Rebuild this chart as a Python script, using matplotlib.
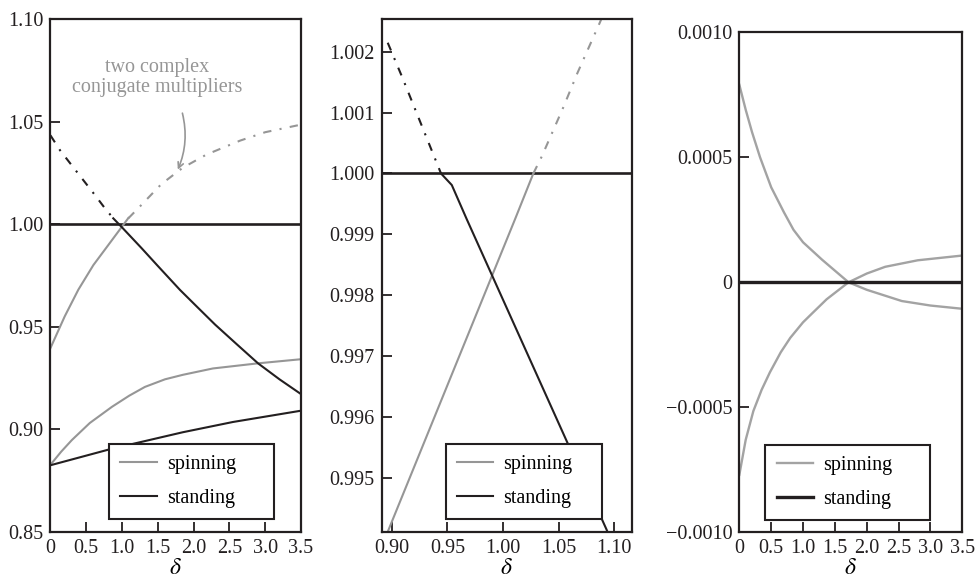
import matplotlib
matplotlib.use('Agg')
import matplotlib.pyplot as plt

plt.rcParams['font.family'] = ['Liberation Serif', 'DejaVu Serif']
plt.rcParams['mathtext.fontset'] = 'stix'

GRAY = '#969696'
BLACK = '#231f20'

# ---- panel 1 data (delta from 0 to 3.5) ----
p1_spin_low_x = [0, 0.15, 0.3, 0.55, 0.86, 1.1, 1.32, 1.6, 1.85, 2.27, 2.9, 3.5]
p1_spin_low_y = [0.8826, 0.889, 0.8947, 0.903, 0.9109, 0.9163, 0.9206, 0.9243,
                 0.9265, 0.9296, 0.9321, 0.9341]
p1_spin_up_x = [0, 0.2, 0.39, 0.6, 0.76, 0.99, 1.09]
p1_spin_up_y = [0.9395, 0.955, 0.968, 0.980, 0.9875, 0.9983, 1.003]
p1_spin_cx_x = [1.088, 1.237, 1.55, 1.85, 2.18, 2.65, 3.0, 3.5]
p1_spin_cx_y = [1.0028, 1.0081, 1.0195, 1.0275, 1.0339, 1.0407, 1.0448, 1.0485]
p1_stand_low_x = [0, 0.83, 1.85, 2.55, 3.5]
p1_stand_low_y = [0.8824, 0.8902, 0.8985, 0.9035, 0.909]
p1_stand_up_x = [0.878, 1.0, 1.275, 1.5, 1.81, 2.05, 2.3, 2.6, 2.9, 3.2, 3.5]
p1_stand_up_y = [1.0028, 0.9984, 0.9882, 0.9796, 0.9679, 0.9596, 0.951, 0.9415,
                 0.9321, 0.9243, 0.9171]
p1_stand_cx_x = [0, 0.134, 0.623, 0.753, 0.878]
p1_stand_cx_y = [1.0433, 1.036, 1.0141, 1.0081, 1.0028]
p1_xticks = [0, 0.5, 1.0, 1.5, 2.0, 2.5, 3.0, 3.5]
p1_xlabels = ['0', '0.5', '1.0', '1.5', '2.0', '2.5', '3.0', '3.5']
p1_yticks = [0.85, 0.90, 0.95, 1.00, 1.05, 1.10]

# ---- panel 2 data (zoom near delta = 1) ----
p2_spin_x = [0.894, 1.0109, 1.0273]
p2_spin_y = [0.9940, 0.99925, 1.0]
p2_spin_cx_x = [1.0273, 1.0349, 1.0543, 1.0669, 1.0873, 1.092]
p2_spin_cx_y = [1.0, 1.00028, 1.00109, 1.00165, 1.00249, 1.0027]
p2_stand_x = [0.9443, 0.954, 0.9674, 1.093, 1.096]
p2_stand_y = [1.0, 0.99981, 0.99925, 0.99415, 0.99402]
p2_stand_cx_x = [0.8964, 0.9095, 0.9443]
p2_stand_cx_y = [1.00215, 1.00158, 1.0]
p2_xticks = [0.90, 0.95, 1.00, 1.05, 1.10]
p2_yticks = [0.995, 0.996, 0.997, 0.998, 0.999, 1.000, 1.001, 1.002]

# ---- panel 3 data ----
p3_spin_a_x = [0, 0.1, 0.2, 0.325, 0.5, 0.7, 0.85, 1.0, 1.3, 1.714, 2.0, 2.55, 3.0, 3.5]
p3_spin_a_y = [0.00079, 0.00069, 0.00060, 0.00050, 0.00038, 0.00028, 0.00021,
               0.00016, 0.00009, 0.0, -0.00003, -0.000075, -0.000093, -0.000106]
p3_spin_b_x = [0, 0.1, 0.22, 0.35, 0.48, 0.65, 0.8, 1.0, 1.14, 1.37, 1.714, 2.0,
               2.29, 2.8, 3.5]
p3_spin_b_y = [-0.00077, -0.00063, -0.000515, -0.00043, -0.00036, -0.00028,
               -0.000222, -0.00016, -0.000125, -0.000068, 0.0, 0.000035,
               0.000062, 0.000088, 0.000107]
p3_yticks = [-0.0010, -0.0005, 0, 0.0005, 0.0010]
p3_ylabels = ['\u22120.0010', '\u22120.0005', '0', '0.0005', '0.0010']

FS = 14.5
DASHDOT = (0, (4, 4, 1, 4))

fig = plt.figure(figsize=(9.75, 5.83), dpi=100)
ax1 = fig.add_axes([0.0517, 0.0880, 0.2570, 0.8794])
ax2 = fig.add_axes([0.3915, 0.0880, 0.2567, 0.8794])
ax3 = fig.add_axes([0.7583, 0.0870, 0.2287, 0.8576])


def style(ax):
    for s in ax.spines.values():
        s.set_linewidth(1.6)
        s.set_color(BLACK)
    ax.tick_params(direction='in', length=7, width=1.3, pad=5,
                   labelsize=FS, top=False, right=False, colors=BLACK)
    ax.set_xlabel('$\\delta$', fontsize=17, labelpad=0)


def legend(ax, x0, w):
    lg = ax.legend(loc='lower left', bbox_to_anchor=(x0, 0.024, w, 0.15),
                   mode='expand', fontsize=FS, fancybox=False, framealpha=1,
                   edgecolor=BLACK, borderaxespad=0, borderpad=0.55,
                   labelspacing=0.75, handlelength=1.8, handletextpad=0.5)
    lg.get_frame().set_linewidth(1.5)


# panel 1
ax1.axhline(1.0, color=BLACK, lw=1.9)
ax1.plot(p1_spin_low_x, p1_spin_low_y, color=GRAY, lw=1.5, label='spinning')
ax1.plot(p1_spin_up_x, p1_spin_up_y, color=GRAY, lw=1.5)
ax1.plot(p1_spin_cx_x, p1_spin_cx_y, color=GRAY, lw=1.5, ls=DASHDOT)
ax1.plot(p1_stand_low_x, p1_stand_low_y, color=BLACK, lw=1.5, label='standing')
ax1.plot(p1_stand_up_x, p1_stand_up_y, color=BLACK, lw=1.5)
ax1.plot(p1_stand_cx_x, p1_stand_cx_y, color=BLACK, lw=1.5, ls=DASHDOT)
ax1.set_xlim(0, 3.5)
ax1.set_ylim(0.85, 1.10)
ax1.set_xticks(p1_xticks, p1_xlabels)
ax1.set_yticks(p1_yticks, ['%.2f' % v for v in p1_yticks])
ax1.text(1.49, 1.0715, 'two complex\nconjugate multipliers', color=GRAY,
         fontsize=FS, ha='center', va='center', linespacing=1.05)
ax1.annotate('', xy=(1.764, 1.0253), xytext=(1.834, 1.0554),
             arrowprops=dict(arrowstyle='->', color=GRAY, lw=1.2,
                             connectionstyle='arc3,rad=-0.18'))
style(ax1)
legend(ax1, 0.235, 0.657)

# panel 2
ax2.axhline(1.0, color=BLACK, lw=1.9)
ax2.plot(p2_spin_x, p2_spin_y, color=GRAY, lw=1.5, label='spinning')
ax2.plot(p2_spin_cx_x, p2_spin_cx_y, color=GRAY, lw=1.5, ls=DASHDOT)
ax2.plot(p2_stand_x, p2_stand_y, color=BLACK, lw=1.5, label='standing')
ax2.plot(p2_stand_cx_x, p2_stand_cx_y, color=BLACK, lw=1.5, ls=DASHDOT)
ax2.set_xlim(0.891, 1.116)
ax2.set_ylim(0.99411, 1.00254)
ax2.set_xticks(p2_xticks, ['%.2f' % v for v in p2_xticks])
ax2.set_yticks(p2_yticks, ['%.3f' % v for v in p2_yticks])
style(ax2)
legend(ax2, 0.257, 0.625)

# panel 3
ax3.plot(p3_spin_a_x, p3_spin_a_y, color='#a3a3a3', lw=1.7, label='spinning')
ax3.plot(p3_spin_b_x, p3_spin_b_y, color='#a3a3a3', lw=1.7)
ax3.axhline(0.0, color=BLACK, lw=2.4, label='standing')
ax3.set_xlim(0, 3.5)
ax3.set_ylim(-0.001, 0.001)
ax3.set_xticks(p1_xticks, p1_xlabels)
ax3.set_yticks(p3_yticks, p3_ylabels)
style(ax3)
legend(ax3, 0.117, 0.739)

fig.savefig('out.png', dpi=100)
